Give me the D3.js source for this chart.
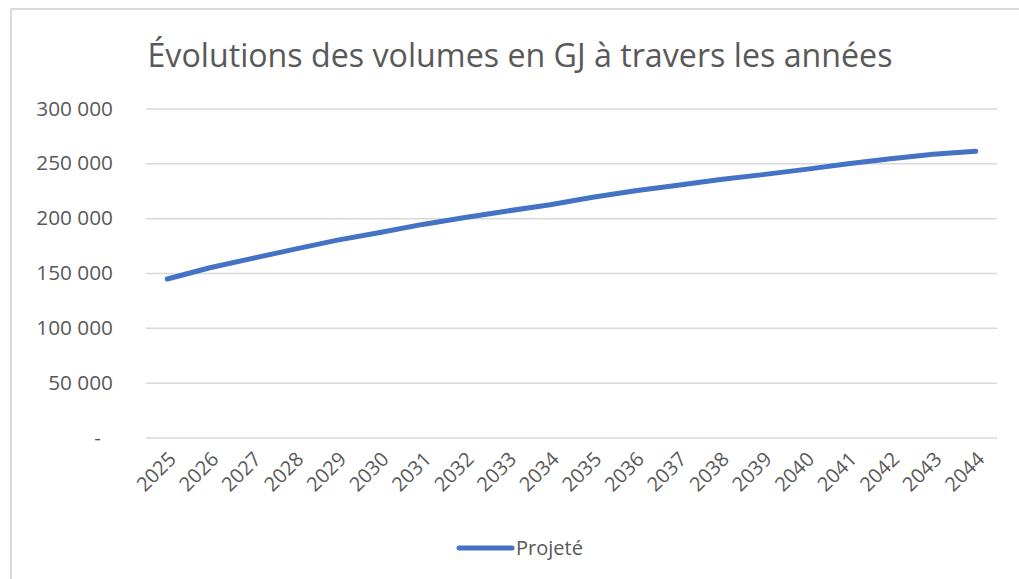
<!DOCTYPE html>
<html><head><meta charset="utf-8">
<script src="https://cdn.jsdelivr.net/npm/d3@7"></script>
<style>html,body{margin:0;padding:0;background:#fff;}svg{display:block;}</style>
</head><body>
<svg id="c" width="1019" height="579"></svg>
<script>
const years = ["2025","2026","2027","2028","2029","2030","2031","2032","2033","2034","2035","2036","2037","2038","2039","2040","2041","2042","2043","2044"];
const projete = [144500,154800,163300,171800,180000,187000,194300,200600,206600,212300,219000,225000,230000,235200,239700,244500,249700,254200,258200,261000];
const yTicks = [0,50000,100000,150000,200000,250000,300000];
const title = "Évolutions des volumes en GJ à travers les années";
const seriesName = "Projeté";

const svg = d3.select("#c");
const font = "'Open Sans', sans-serif";
const grey = "#595959";
const m = {left:146, right:997, top:108.5, bottom:437.5};

// border
svg.append("line").attr("x1",11).attr("x2",1019).attr("y1",9).attr("y2",9).attr("stroke","#d9d9d9").attr("stroke-width",2);
svg.append("line").attr("x1",11).attr("x2",11).attr("y1",9).attr("y2",579).attr("stroke","#d9d9d9").attr("stroke-width",2);

svg.append("text").attr("x",520).attr("y",67).attr("text-anchor","middle")
  .attr("font-family",font).attr("font-size",32.2).attr("fill",grey).text(title);

const x = d3.scaleBand().domain(years).range([m.left,m.right]);
const y = d3.scaleLinear().domain([0,300000]).range([m.bottom,m.top]);

const fmt = v => v===0 ? "-" : d3.format(",")(v).replace(/,/g," ");

const ya = svg.append("g").attr("transform",`translate(${m.left},0)`)
  .call(d3.axisLeft(y).tickValues(yTicks).tickSize(-(m.right-m.left)).tickPadding(33).tickFormat(fmt));
ya.select(".domain").remove();
ya.selectAll(".tick line").attr("stroke","#d9d9d9").attr("stroke-width",1.5);
ya.selectAll(".tick text").attr("font-family",font).attr("font-size",20.8).attr("fill",grey)
  .attr("dx", d => d===0 ? -12 : 0);

const xa = svg.append("g").attr("transform",`translate(0,${m.bottom})`)
  .call(d3.axisBottom(x).tickSize(0).tickPadding(0));
xa.select(".domain").remove();
xa.selectAll(".tick text").attr("font-family",font).attr("font-size",20).attr("fill",grey)
  .attr("text-anchor","end").attr("dy",0)
  .attr("transform","translate(10,23) rotate(-45)");

const line = d3.line().x((d,i)=>x(years[i])+x.bandwidth()/2).y(d=>y(d));
svg.append("path").datum(projete).attr("d",line).attr("fill","none")
  .attr("stroke","#4472C4").attr("stroke-width",5).attr("stroke-linecap","round").attr("stroke-linejoin","round");

// legend
svg.append("line").attr("x1",459).attr("x2",512).attr("y1",548).attr("y2",548)
  .attr("stroke","#4472C4").attr("stroke-width",5).attr("stroke-linecap","round");
svg.append("text").attr("x",516).attr("y",555).attr("font-family",font).attr("font-size",20).attr("fill",grey).text(seriesName);
</script>
</body></html>
